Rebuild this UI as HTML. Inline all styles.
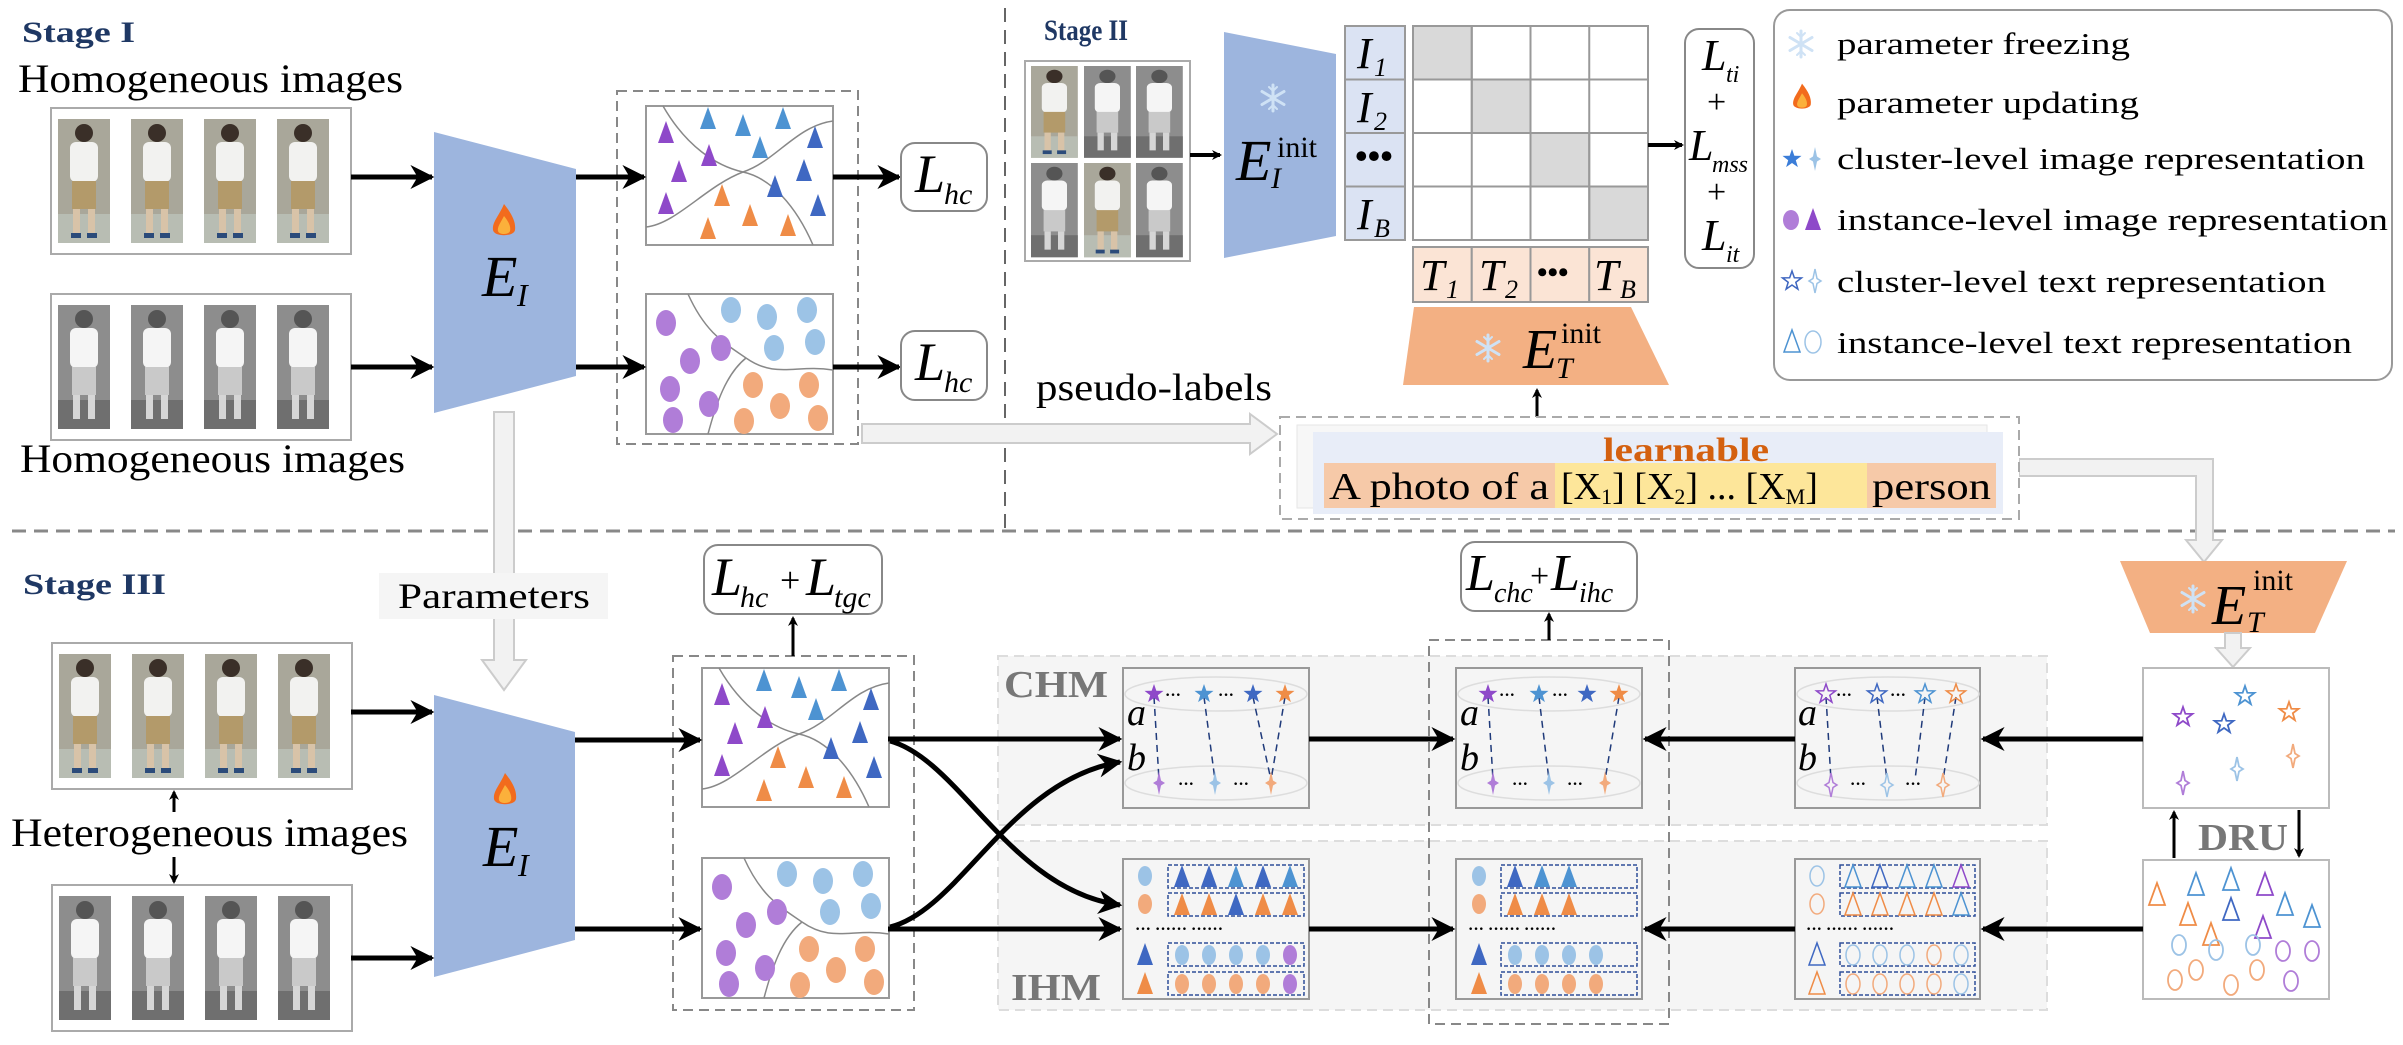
<!DOCTYPE html>
<html><head><meta charset="utf-8"><style>
html,body{margin:0;padding:0;background:#fff}
svg{display:block;font-family:"Liberation Serif","Times New Roman",serif}
svg text{font-family:"Liberation Serif","Times New Roman",serif}
</style></head><body>
<svg width="2403" height="1045" viewBox="0 0 2403 1045" xmlns="http://www.w3.org/2000/svg" font-family="Liberation Serif, Times New Roman, serif">
<defs>
<marker id="ah" markerWidth="10" markerHeight="10" refX="8" refY="5" orient="auto" markerUnits="userSpaceOnUse"><path d="M0,0 L10,5 L0,10 L3,5Z" fill="#000"/></marker>
<marker id="ahb" viewBox="0 0 10 10" markerWidth="24" markerHeight="24" refX="9" refY="5" orient="auto" markerUnits="userSpaceOnUse"><path d="M0,0 L10,5 L0,10 L3,5Z" fill="#000"/></marker>
<path id="tri" d="M0,-12 L8,10 L-8,10Z"/>
<path id="st5" d="M0,-10 2.35,-3.24 9.5,-3.1 3.8,1.24 5.9,8.1 0,4 -5.9,8.1 -3.8,1.24 -9.5,-3.1 -2.35,-3.24Z"/>
<path id="st4" d="M0,-12 2,-2.5 6,0 2,2.5 0,12 -2,2.5 -6,0 -2,-2.5Z"/>
<g id="flame"><path d="M0,-18 C8,-8 12,0 11,8 C10,15 -10,15 -11,8 C-12,0 -5,-6 0,-18Z" fill="#f26b1d"/><path d="M0,-6 C5,0 7,5 6,9 C5,13 -5,13 -6,9 C-7,5 -3,0 0,-6Z" fill="#fbb03b"/></g>
<g id="snow" stroke="#cfe2f5" stroke-width="3" stroke-linecap="round"><line x1="0" y1="-13" x2="0" y2="13"/><line x1="-11" y1="-6.5" x2="11" y2="6.5"/><line x1="-11" y1="6.5" x2="11" y2="-6.5"/><path d="M-4,-11 0,-7 4,-11 M-4,11 0,7 4,11" fill="none" stroke-width="2"/></g>
<g id="person"><rect x="0" y="0" width="52" height="124" fill="#a9a79a"/><rect x="0" y="95" width="52" height="29" fill="#b8bdb3"/><circle cx="26" cy="14" r="9" fill="#3a2f28"/><rect x="12" y="23" width="28" height="40" rx="6" fill="#f2f2f0"/><rect x="14" y="62" width="24" height="28" fill="#b39a6a"/><rect x="15" y="90" width="7" height="24" fill="#d8c3a8"/><rect x="30" y="90" width="7" height="24" fill="#d8c3a8"/><rect x="13" y="114" width="10" height="5" fill="#2b4b7a"/><rect x="29" y="114" width="10" height="5" fill="#2b4b7a"/></g>
<g id="personG"><rect x="0" y="0" width="52" height="124" fill="#8d8d8d"/><rect x="0" y="95" width="52" height="29" fill="#6f6f6f"/><circle cx="26" cy="14" r="9" fill="#555"/><rect x="12" y="23" width="28" height="40" rx="6" fill="#f5f5f5"/><rect x="14" y="62" width="24" height="28" fill="#c9c9c9"/><rect x="15" y="90" width="7" height="24" fill="#d6d6d6"/><rect x="30" y="90" width="7" height="24" fill="#d6d6d6"/></g>
<g id="strip"><rect x="0" y="0" width="300" height="146" fill="#fff" stroke="#aaa" stroke-width="2"/><g transform="translate(7,11)"><use href="#person"/></g><g transform="translate(80,11)"><use href="#person"/></g><g transform="translate(153,11)"><use href="#person"/></g><g transform="translate(226,11)"><use href="#person"/></g></g>
<g id="stripG"><rect x="0" y="0" width="300" height="146" fill="#fff" stroke="#aaa" stroke-width="2"/><g transform="translate(7,11)"><use href="#personG"/></g><g transform="translate(80,11)"><use href="#personG"/></g><g transform="translate(153,11)"><use href="#personG"/></g><g transform="translate(226,11)"><use href="#personG"/></g></g>
<g id="triBox">
<rect x="0" y="0" width="187" height="139" fill="#fff" stroke="#999" stroke-width="2"/>
<path d="M17,0 C40,40 70,60 97,66 C125,72 150,100 167,139" fill="none" stroke="#888" stroke-width="1.5"/>
<path d="M0,121 C30,118 60,80 97,66 C130,55 150,20 187,15" fill="none" stroke="#888" stroke-width="1.5"/>
<use href="#tri" x="62" y="13" fill="#4d93d2"/><use href="#tri" x="97" y="20" fill="#4d93d2"/><use href="#tri" x="137" y="13" fill="#4d93d2"/>
<use href="#tri" x="169" y="32" fill="#3f68c2"/><use href="#tri" x="158" y="65" fill="#3f68c2"/><use href="#tri" x="129" y="81" fill="#3f68c2"/><use href="#tri" x="172" y="100" fill="#3f68c2"/><use href="#tri" x="114" y="42" fill="#4d93d2"/>
<use href="#tri" x="20" y="27" fill="#8e49c9"/><use href="#tri" x="63" y="50" fill="#8e49c9"/><use href="#tri" x="33" y="66" fill="#8e49c9"/><use href="#tri" x="20" y="98" fill="#8e49c9"/>
<use href="#tri" x="76" y="90" fill="#ef8c47"/><use href="#tri" x="104" y="110" fill="#ef8c47"/><use href="#tri" x="62" y="123" fill="#ef8c47"/><use href="#tri" x="142" y="120" fill="#ef8c47"/>
</g>
<g id="cirBox">
<rect x="0" y="0" width="187" height="140" fill="#fff" stroke="#999" stroke-width="2"/>
<path d="M42,0 C60,40 80,50 100,64 C130,85 150,70 187,76" fill="none" stroke="#888" stroke-width="1.5"/>
<path d="M62,140 C70,110 80,80 100,64" fill="none" stroke="#888" stroke-width="1.5"/>
<g fill="#9cc3e6"><ellipse cx="85" cy="16" rx="10" ry="13"/><ellipse cx="121" cy="23" rx="10" ry="13"/><ellipse cx="161" cy="16" rx="10" ry="13"/><ellipse cx="128" cy="54" rx="10" ry="13"/><ellipse cx="169" cy="48" rx="10" ry="13"/></g>
<g fill="#b07dd8"><ellipse cx="20" cy="29" rx="10" ry="13"/><ellipse cx="75" cy="54" rx="10" ry="13"/><ellipse cx="44" cy="67" rx="10" ry="13"/><ellipse cx="24" cy="95" rx="10" ry="13"/><ellipse cx="63" cy="110" rx="10" ry="13"/><ellipse cx="27" cy="126" rx="10" ry="13"/></g>
<g fill="#f2aa7c"><ellipse cx="107" cy="91" rx="10" ry="13"/><ellipse cx="163" cy="91" rx="10" ry="13"/><ellipse cx="134" cy="112" rx="10" ry="13"/><ellipse cx="98" cy="127" rx="10" ry="13"/><ellipse cx="172" cy="124" rx="10" ry="13"/></g>
</g>
</defs>

<line x1="12" y1="531" x2="2395" y2="531" stroke="#888" stroke-width="3" stroke-dasharray="14,8"/>
<line x1="1005" y1="8" x2="1005" y2="531" stroke="#666" stroke-width="2" stroke-dasharray="14,8"/>

<text x="22" y="42" font-size="30" font-weight="bold" fill="#1f3864" textLength="113" lengthAdjust="spacingAndGlyphs">Stage I</text>
<text x="18" y="92" font-size="40" textLength="385" lengthAdjust="spacingAndGlyphs">Homogeneous images</text>
<use href="#strip" x="51" y="108"/>
<use href="#stripG" x="51" y="294"/>
<text x="20" y="472" font-size="40" textLength="385" lengthAdjust="spacingAndGlyphs">Homogeneous images</text>
<polygon points="434,132 576,169 576,376 434,413" fill="#9db5de"/>
<use href="#flame" x="504" y="222"/>
<text x="482" y="296" font-size="58" font-style="italic">E</text><text x="517" y="306" font-size="32" font-style="italic">I</text>
<line x1="351" y1="177" x2="432" y2="177" stroke="#000" stroke-width="5" marker-end="url(#ahb)"/>
<line x1="351" y1="367" x2="432" y2="367" stroke="#000" stroke-width="5" marker-end="url(#ahb)"/>
<rect x="617" y="91" width="241" height="353" fill="none" stroke="#888" stroke-width="2" stroke-dasharray="10,6"/>
<use href="#triBox" x="646" y="106"/>
<use href="#cirBox" x="646" y="294"/>
<line x1="576" y1="177" x2="644" y2="177" stroke="#000" stroke-width="5" marker-end="url(#ahb)"/>
<line x1="576" y1="367" x2="644" y2="367" stroke="#000" stroke-width="5" marker-end="url(#ahb)"/>
<line x1="833" y1="177" x2="899" y2="177" stroke="#000" stroke-width="5" marker-end="url(#ahb)"/>
<line x1="833" y1="367" x2="899" y2="367" stroke="#000" stroke-width="5" marker-end="url(#ahb)"/>
<rect x="901" y="143" width="86" height="68" rx="14" fill="#fff" stroke="#888" stroke-width="2"/>
<text x="915" y="192" font-size="54" font-style="italic">L</text><text x="944" y="204" font-size="30" font-style="italic">hc</text>
<rect x="901" y="331" width="86" height="69" rx="14" fill="#fff" stroke="#888" stroke-width="2"/>
<text x="915" y="380" font-size="54" font-style="italic">L</text><text x="944" y="392" font-size="30" font-style="italic">hc</text>

<polygon points="494,412 514,412 514,660 526,660 504,690 482,660 494,660" fill="#f2f2f2" stroke="#ccc" stroke-width="2"/>
<rect x="379" y="573" width="229" height="46" fill="#f5f5f5"/>
<text x="398" y="608" font-size="36" textLength="192" lengthAdjust="spacingAndGlyphs">Parameters</text>
<polygon points="862,424 1250,424 1250,414 1277,434 1250,454 1250,443 862,443" fill="#f2f2f2" stroke="#ccc" stroke-width="2"/>
<text x="1036" y="400" font-size="38" textLength="236" lengthAdjust="spacingAndGlyphs">pseudo-labels</text>
<polygon points="2019,459 2213,459 2213,540 2222,540 2204,562 2186,540 2196,540 2196,476 2019,476" fill="#f2f2f2" stroke="#ccc" stroke-width="2"/>

<text x="1044" y="40" font-size="30" font-weight="bold" fill="#1f3864" textLength="84" lengthAdjust="spacingAndGlyphs">Stage II</text>
<rect x="1025" y="61" width="165" height="200" fill="#fff" stroke="#aaa" stroke-width="2"/>
<g transform="translate(1031,66) scale(0.9,0.74)"><use href="#person"/></g>
<g transform="translate(1084,66) scale(0.9,0.74)"><use href="#personG"/></g>
<g transform="translate(1136,66) scale(0.9,0.74)"><use href="#personG"/></g>
<g transform="translate(1031,163) scale(0.9,0.76)"><use href="#personG"/></g>
<g transform="translate(1084,163) scale(0.9,0.76)"><use href="#person"/></g>
<g transform="translate(1136,163) scale(0.9,0.76)"><use href="#personG"/></g>
<polygon points="1224,32 1336,54 1336,236 1224,258" fill="#9db5de"/>
<use href="#snow" x="1273" y="98"/>
<text x="1236" y="180" font-size="58" font-style="italic">E</text><text x="1271" y="188" font-size="30" font-style="italic">I</text><text x="1277" y="157" font-size="30">init</text>
<line x1="1190" y1="155" x2="1220" y2="155" stroke="#000" stroke-width="4" marker-end="url(#ah)"/>
<g stroke="#999" stroke-width="2">
<rect x="1345" y="26" width="60" height="53.5" fill="#dbe3f3"/><rect x="1345" y="79.5" width="60" height="53.5" fill="#dbe3f3"/><rect x="1345" y="133" width="60" height="53.5" fill="#dbe3f3"/><rect x="1345" y="186.5" width="60" height="53.5" fill="#dbe3f3"/>
<rect x="1413" y="26" width="235" height="214" fill="#fff"/>
<rect x="1413" y="26" width="58.75" height="53.5" fill="#d9d9d9"/><rect x="1471.75" y="79.5" width="58.75" height="53.5" fill="#d9d9d9"/><rect x="1530.5" y="133" width="58.75" height="53.5" fill="#d9d9d9"/><rect x="1589.25" y="186.5" width="58.75" height="53.5" fill="#d9d9d9"/>
<line x1="1471.75" y1="26" x2="1471.75" y2="240"/><line x1="1530.5" y1="26" x2="1530.5" y2="240"/><line x1="1589.25" y1="26" x2="1589.25" y2="240"/>
<line x1="1413" y1="79.5" x2="1648" y2="79.5"/><line x1="1413" y1="133" x2="1648" y2="133"/><line x1="1413" y1="186.5" x2="1648" y2="186.5"/>
<rect x="1413" y="247" width="58.75" height="55" fill="#fbe4d5"/><rect x="1471.75" y="247" width="58.75" height="55" fill="#fbe4d5"/><rect x="1530.5" y="247" width="58.75" height="55" fill="#fbe4d5"/><rect x="1589.25" y="247" width="58.75" height="55" fill="#fbe4d5"/>
</g>
<g font-style="italic" font-size="44">
<text x="1357" y="68">I</text><text x="1374" y="76" font-size="26">1</text>
<text x="1357" y="122">I</text><text x="1374" y="130" font-size="26">2</text>
<text x="1357" y="229">I</text><text x="1374" y="237" font-size="26">B</text>
<text x="1420" y="290">T</text><text x="1446" y="298" font-size="26">1</text>
<text x="1479" y="290">T</text><text x="1505" y="298" font-size="26">2</text>
<text x="1594" y="290">T</text><text x="1620" y="298" font-size="26">B</text>
</g>
<text x="1355" y="168" font-size="36" font-weight="bold">•••</text>
<text x="1537" y="282" font-size="30" font-weight="bold">•••</text>
<line x1="1648" y1="145" x2="1682" y2="145" stroke="#000" stroke-width="4" marker-end="url(#ah)"/>
<rect x="1685" y="29" width="69" height="239" rx="14" fill="#fff" stroke="#888" stroke-width="2"/>
<g font-style="italic">
<text x="1702" y="70" font-size="44">L</text><text x="1726" y="82" font-size="24">ti</text>
<text x="1707" y="113" font-size="34" font-style="normal">+</text>
<text x="1689" y="160" font-size="44">L</text><text x="1712" y="172" font-size="24">mss</text>
<text x="1707" y="203" font-size="34" font-style="normal">+</text>
<text x="1702" y="250" font-size="44">L</text><text x="1726" y="262" font-size="24">it</text>
</g>
<polygon points="1414,307 1631,307 1669,385 1403,385" fill="#f3b083"/>
<use href="#snow" x="1488" y="348"/>
<text x="1523" y="368" font-size="56" font-style="italic">E</text><text x="1556" y="378" font-size="30" font-style="italic">T</text><text x="1561" y="343" font-size="30">init</text>
<line x1="1537" y1="417" x2="1537" y2="390" stroke="#000" stroke-width="3" marker-end="url(#ah)"/>
<rect x="1280" y="417" width="739" height="102" fill="#fff" stroke="#aaa" stroke-width="2" stroke-dasharray="10,6"/>
<rect x="1297" y="425" width="690" height="83" fill="#f7f7f7" stroke="#e6e6e6"/>
<rect x="1313" y="432" width="690" height="82" fill="#e8edf8"/>
<text x="1603" y="461" font-size="34" fill="#d4600f" font-weight="bold" textLength="166" lengthAdjust="spacingAndGlyphs">learnable</text>
<rect x="1324" y="463" width="231" height="45" fill="#f6c9a8"/>
<rect x="1555" y="463" width="312" height="45" fill="#fde69a"/>
<rect x="1867" y="463" width="129" height="45" fill="#f6c9a8"/>
<text x="1329" y="499" font-size="38" textLength="220" lengthAdjust="spacingAndGlyphs">A photo of a</text>
<text x="1561" y="499" font-size="38">[X<tspan font-size="22" dy="5">1</tspan><tspan dy="-5">] [X</tspan><tspan font-size="22" dy="5">2</tspan><tspan dy="-5">] ... [X</tspan><tspan font-size="22" dy="5">M</tspan><tspan dy="-5">]</tspan></text>
<text x="1872" y="499" font-size="38" textLength="119" lengthAdjust="spacingAndGlyphs">person</text>

<rect x="1774" y="10" width="618" height="370" rx="16" fill="#fff" stroke="#999" stroke-width="2"/>
<use href="#snow" x="1801" y="44"/>
<g transform="translate(1802,98) scale(0.8)"><use href="#flame"/></g>
<use href="#st5" x="1792" y="159" fill="#3b7dd8"/><use href="#st4" x="1815" y="159" fill="#9cc3e6"/>
<ellipse cx="1791" cy="220" rx="8" ry="10" fill="#b07dd8"/><use href="#tri" x="1813" y="220" fill="#8e49c9"/>
<use href="#st5" x="1792" y="281" fill="none" stroke="#3e66c0" stroke-width="1.5"/><use href="#st4" x="1815" y="281" fill="none" stroke="#9cc3e6" stroke-width="1.5"/>
<use href="#tri" x="1792" y="342" fill="none" stroke="#4d93d2" stroke-width="1.5"/><ellipse cx="1813" cy="342" rx="8" ry="11" fill="none" stroke="#9cc3e6" stroke-width="1.5"/>
<g font-size="31">
<text x="1837" y="54" textLength="293" lengthAdjust="spacingAndGlyphs">parameter freezing</text>
<text x="1837" y="113" textLength="302" lengthAdjust="spacingAndGlyphs">parameter updating</text>
<text x="1837" y="169" textLength="528" lengthAdjust="spacingAndGlyphs">cluster-level image representation</text>
<text x="1837" y="230" textLength="551" lengthAdjust="spacingAndGlyphs">instance-level image representation</text>
<text x="1837" y="292" textLength="489" lengthAdjust="spacingAndGlyphs">cluster-level text representation</text>
<text x="1837" y="353" textLength="515" lengthAdjust="spacingAndGlyphs">instance-level text representation</text>
</g>

<text x="23" y="594" font-size="30" font-weight="bold" fill="#1f3864" textLength="143" lengthAdjust="spacingAndGlyphs">Stage III</text>
<use href="#strip" x="52" y="643"/>
<use href="#stripG" x="52" y="885"/>
<text x="11" y="846" font-size="40" textLength="397" lengthAdjust="spacingAndGlyphs">Heterogeneous images</text>
<line x1="174" y1="812" x2="174" y2="792" stroke="#000" stroke-width="3" marker-end="url(#ah)"/>
<line x1="174" y1="857" x2="174" y2="882" stroke="#000" stroke-width="3" marker-end="url(#ah)"/>
<polygon points="434,695 575,732 575,940 434,977" fill="#9db5de"/>
<use href="#flame" x="505" y="791"/>
<text x="483" y="866" font-size="58" font-style="italic">E</text><text x="518" y="876" font-size="32" font-style="italic">I</text>
<line x1="351" y1="712" x2="432" y2="712" stroke="#000" stroke-width="5" marker-end="url(#ahb)"/>
<line x1="351" y1="958" x2="432" y2="958" stroke="#000" stroke-width="5" marker-end="url(#ahb)"/>
<rect x="673" y="656" width="241" height="354" fill="none" stroke="#888" stroke-width="2" stroke-dasharray="10,6"/>
<use href="#triBox" x="702" y="668"/>
<use href="#cirBox" x="702" y="858"/>
<line x1="575" y1="740" x2="700" y2="740" stroke="#000" stroke-width="5" marker-end="url(#ahb)"/>
<line x1="575" y1="929" x2="700" y2="929" stroke="#000" stroke-width="5" marker-end="url(#ahb)"/>
<line x1="793" y1="656" x2="793" y2="618" stroke="#000" stroke-width="3" marker-end="url(#ah)"/>
<rect x="704" y="545" width="178" height="69" rx="14" fill="#fff" stroke="#888" stroke-width="2"/>
<text x="712" y="595" font-size="54" font-style="italic">L</text><text x="740" y="607" font-size="30" font-style="italic">hc</text>
<text x="780" y="592" font-size="36">+</text>
<text x="806" y="595" font-size="54" font-style="italic">L</text><text x="834" y="607" font-size="30" font-style="italic">tgc</text>

<rect x="998" y="656" width="1049" height="169" fill="#f5f5f5" stroke="#ddd" stroke-width="2" stroke-dasharray="10,6"/>
<rect x="998" y="841" width="1049" height="169" fill="#f5f5f5" stroke="#ddd" stroke-width="2" stroke-dasharray="10,6"/>
<text x="1004" y="697" font-size="38" font-weight="bold" fill="#777" textLength="104" lengthAdjust="spacingAndGlyphs">CHM</text>
<text x="1011" y="1000" font-size="38" font-weight="bold" fill="#777" textLength="90" lengthAdjust="spacingAndGlyphs">IHM</text>
<rect x="1429" y="640" width="240" height="384" fill="none" stroke="#888" stroke-width="2" stroke-dasharray="10,6"/>
<line x1="1549" y1="640" x2="1549" y2="614" stroke="#000" stroke-width="3" marker-end="url(#ah)"/>
<rect x="1461" y="542" width="176" height="69" rx="14" fill="#fff" stroke="#888" stroke-width="2"/>
<text x="1466" y="590" font-size="52" font-style="italic">L</text><text x="1494" y="602" font-size="28" font-style="italic">chc</text>
<text x="1530" y="587" font-size="34">+</text>
<text x="1551" y="590" font-size="52" font-style="italic">L</text><text x="1579" y="602" font-size="28" font-style="italic">ihc</text>

<g>
<rect x="1123" y="668" width="186" height="140" fill="#f5f5f5" stroke="#999" stroke-width="2"/>
<ellipse cx="1216" cy="694" rx="91" ry="17" fill="none" stroke="#ddd" stroke-width="1.5"/>
<ellipse cx="1216" cy="783" rx="91" ry="17" fill="none" stroke="#ddd" stroke-width="1.5"/>
<g stroke="#1f3a7a" stroke-width="1.5" stroke-dasharray="7,5"><line x1="1154" y1="697" x2="1159" y2="780"/><line x1="1204" y1="697" x2="1215" y2="780"/><line x1="1253" y1="697" x2="1271" y2="780"/><line x1="1285" y1="697" x2="1271" y2="780"/></g>
<use href="#st5" x="1154" y="694" fill="#8e49c9"/><use href="#st5" x="1204" y="694" fill="#4d93d2"/><use href="#st5" x="1253" y="694" fill="#3f68c2"/><use href="#st5" x="1285" y="694" fill="#ef8c47"/>
<use href="#st4" x="1159" y="783" fill="#b07dd8"/><use href="#st4" x="1215" y="783" fill="#9cc3e6"/><use href="#st4" x="1271" y="783" fill="#f2aa7c"/>
<text x="1165" y="700" font-size="16" font-weight="bold">···</text><text x="1218" y="700" font-size="16" font-weight="bold">···</text>
<text x="1178" y="789" font-size="16" font-weight="bold">···</text><text x="1233" y="789" font-size="16" font-weight="bold">···</text>
<text x="1127" y="725" font-size="38" font-style="italic">a</text><text x="1127" y="770" font-size="38" font-style="italic">b</text>
</g>
<g>
<rect x="1456" y="668" width="186" height="140" fill="#f5f5f5" stroke="#999" stroke-width="2"/>
<ellipse cx="1549" cy="694" rx="91" ry="17" fill="none" stroke="#ddd" stroke-width="1.5"/>
<ellipse cx="1549" cy="783" rx="91" ry="17" fill="none" stroke="#ddd" stroke-width="1.5"/>
<g stroke="#1f3a7a" stroke-width="1.5" stroke-dasharray="7,5"><line x1="1488" y1="697" x2="1493" y2="780"/><line x1="1539" y1="697" x2="1549" y2="780"/><line x1="1619" y1="697" x2="1605" y2="780"/></g>
<use href="#st5" x="1488" y="694" fill="#8e49c9"/><use href="#st5" x="1539" y="694" fill="#4d93d2"/><use href="#st5" x="1587" y="694" fill="#3f68c2"/><use href="#st5" x="1619" y="694" fill="#ef8c47"/>
<use href="#st4" x="1493" y="783" fill="#b07dd8"/><use href="#st4" x="1549" y="783" fill="#9cc3e6"/><use href="#st4" x="1605" y="783" fill="#f2aa7c"/>
<text x="1499" y="700" font-size="16" font-weight="bold">···</text><text x="1552" y="700" font-size="16" font-weight="bold">···</text>
<text x="1512" y="789" font-size="16" font-weight="bold">···</text><text x="1567" y="789" font-size="16" font-weight="bold">···</text>
<text x="1460" y="725" font-size="38" font-style="italic">a</text><text x="1460" y="770" font-size="38" font-style="italic">b</text>
</g>
<g>
<rect x="1795" y="668" width="185" height="140" fill="#f5f5f5" stroke="#999" stroke-width="2"/>
<ellipse cx="1888" cy="694" rx="91" ry="17" fill="none" stroke="#ddd" stroke-width="1.5"/>
<ellipse cx="1888" cy="783" rx="91" ry="17" fill="none" stroke="#ddd" stroke-width="1.5"/>
<g stroke="#1f3a7a" stroke-width="1.5" stroke-dasharray="7,5"><line x1="1826" y1="697" x2="1831" y2="780"/><line x1="1877" y1="697" x2="1887" y2="780"/><line x1="1925" y1="697" x2="1915" y2="780"/><line x1="1956" y1="697" x2="1943" y2="780"/></g>
<g fill="none" stroke-width="1.5"><use href="#st5" x="1826" y="694" stroke="#8e49c9"/><use href="#st5" x="1877" y="694" stroke="#3f68c2"/><use href="#st5" x="1925" y="694" stroke="#4d93d2"/><use href="#st5" x="1956" y="694" stroke="#ef8c47"/>
<use href="#st4" x="1831" y="785" stroke="#b07dd8"/><use href="#st4" x="1887" y="785" stroke="#9cc3e6"/><use href="#st4" x="1943" y="785" stroke="#f2aa7c"/></g>
<text x="1836" y="700" font-size="16" font-weight="bold">···</text><text x="1890" y="700" font-size="16" font-weight="bold">···</text>
<text x="1850" y="789" font-size="16" font-weight="bold">···</text><text x="1905" y="789" font-size="16" font-weight="bold">···</text>
<text x="1798" y="725" font-size="38" font-style="italic">a</text><text x="1798" y="770" font-size="38" font-style="italic">b</text>
</g>

<g>
<rect x="1123" y="859" width="186" height="140" fill="#f5f5f5" stroke="#999" stroke-width="2"/>
<g fill="none" stroke="#2f4f9a" stroke-width="1.5" stroke-dasharray="4,2"><rect x="1168" y="865" width="136" height="23"/><rect x="1168" y="893" width="136" height="23"/><rect x="1168" y="943" width="136" height="23"/><rect x="1168" y="972" width="136" height="23"/></g>
<ellipse cx="1145" cy="876" rx="7" ry="10" fill="#9cc3e6"/><ellipse cx="1145" cy="904" rx="7" ry="10" fill="#f2aa7c"/>
<use href="#tri" x="1145" y="955" fill="#3f68c2"/><use href="#tri" x="1145" y="984" fill="#ef8c47"/>
<use href="#tri" x="1182" y="877" fill="#3f68c2"/><use href="#tri" x="1209" y="877" fill="#3f68c2"/><use href="#tri" x="1236" y="877" fill="#4d93d2"/><use href="#tri" x="1263" y="877" fill="#3f68c2"/><use href="#tri" x="1290" y="877" fill="#4d93d2"/>
<use href="#tri" x="1182" y="905" fill="#ef8c47"/><use href="#tri" x="1209" y="905" fill="#ef8c47"/><use href="#tri" x="1236" y="905" fill="#3f68c2"/><use href="#tri" x="1263" y="905" fill="#ef8c47"/><use href="#tri" x="1290" y="905" fill="#ef8c47"/>
<g fill="#9cc3e6"><ellipse cx="1182" cy="955" rx="7" ry="10"/><ellipse cx="1209" cy="955" rx="7" ry="10"/><ellipse cx="1236" cy="955" rx="7" ry="10"/><ellipse cx="1263" cy="955" rx="7" ry="10"/></g><ellipse cx="1290" cy="955" rx="7" ry="10" fill="#b07dd8"/>
<g fill="#f2aa7c"><ellipse cx="1182" cy="984" rx="7" ry="10"/><ellipse cx="1209" cy="984" rx="7" ry="10"/><ellipse cx="1236" cy="984" rx="7" ry="10"/><ellipse cx="1263" cy="984" rx="7" ry="10"/></g><ellipse cx="1290" cy="984" rx="7" ry="10" fill="#b07dd8"/>
<text x="1135" y="934" font-size="16" font-weight="bold">···   ······  ······</text>
</g>
<g>
<rect x="1456" y="859" width="186" height="140" fill="#f5f5f5" stroke="#999" stroke-width="2"/>
<g fill="none" stroke="#2f4f9a" stroke-width="1.5" stroke-dasharray="4,2"><rect x="1501" y="865" width="136" height="23"/><rect x="1501" y="893" width="136" height="23"/><rect x="1501" y="943" width="136" height="23"/><rect x="1501" y="972" width="136" height="23"/></g>
<ellipse cx="1479" cy="876" rx="7" ry="10" fill="#9cc3e6"/><ellipse cx="1479" cy="904" rx="7" ry="10" fill="#f2aa7c"/>
<use href="#tri" x="1479" y="955" fill="#3f68c2"/><use href="#tri" x="1479" y="984" fill="#ef8c47"/>
<use href="#tri" x="1515" y="877" fill="#3f68c2"/><use href="#tri" x="1542" y="877" fill="#4d93d2"/><use href="#tri" x="1569" y="877" fill="#4d93d2"/>
<use href="#tri" x="1515" y="905" fill="#ef8c47"/><use href="#tri" x="1542" y="905" fill="#ef8c47"/><use href="#tri" x="1569" y="905" fill="#ef8c47"/>
<g fill="#9cc3e6"><ellipse cx="1515" cy="955" rx="7" ry="10"/><ellipse cx="1542" cy="955" rx="7" ry="10"/><ellipse cx="1569" cy="955" rx="7" ry="10"/><ellipse cx="1596" cy="955" rx="7" ry="10"/></g>
<g fill="#f2aa7c"><ellipse cx="1515" cy="984" rx="7" ry="10"/><ellipse cx="1542" cy="984" rx="7" ry="10"/><ellipse cx="1569" cy="984" rx="7" ry="10"/><ellipse cx="1596" cy="984" rx="7" ry="10"/></g>
<text x="1468" y="934" font-size="16" font-weight="bold">···   ······  ······</text>
</g>
<g>
<rect x="1795" y="859" width="185" height="140" fill="#f5f5f5" stroke="#999" stroke-width="2"/>
<g fill="none" stroke="#2f4f9a" stroke-width="1.5" stroke-dasharray="4,2"><rect x="1840" y="865" width="135" height="23"/><rect x="1840" y="893" width="135" height="23"/><rect x="1840" y="943" width="135" height="23"/><rect x="1840" y="972" width="135" height="23"/></g>
<g fill="none" stroke-width="1.5">
<ellipse cx="1817" cy="876" rx="7" ry="10" stroke="#9cc3e6"/><ellipse cx="1817" cy="904" rx="7" ry="10" stroke="#f2aa7c"/>
<use href="#tri" x="1817" y="955" stroke="#3f68c2"/><use href="#tri" x="1817" y="984" stroke="#ef8c47"/>
<use href="#tri" x="1853" y="877" stroke="#4d93d2"/><use href="#tri" x="1880" y="877" stroke="#3f68c2"/><use href="#tri" x="1907" y="877" stroke="#4d93d2"/><use href="#tri" x="1934" y="877" stroke="#4d93d2"/><use href="#tri" x="1961" y="877" stroke="#8e49c9"/>
<use href="#tri" x="1853" y="905" stroke="#ef8c47"/><use href="#tri" x="1880" y="905" stroke="#ef8c47"/><use href="#tri" x="1907" y="905" stroke="#ef8c47"/><use href="#tri" x="1934" y="905" stroke="#ef8c47"/><use href="#tri" x="1961" y="905" stroke="#4d93d2"/>
<ellipse cx="1853" cy="955" rx="7" ry="10" stroke="#9cc3e6"/><ellipse cx="1880" cy="955" rx="7" ry="10" stroke="#9cc3e6"/><ellipse cx="1907" cy="955" rx="7" ry="10" stroke="#9cc3e6"/><ellipse cx="1934" cy="955" rx="7" ry="10" stroke="#f2aa7c"/><ellipse cx="1961" cy="955" rx="7" ry="10" stroke="#9cc3e6"/>
<ellipse cx="1853" cy="984" rx="7" ry="10" stroke="#f2aa7c"/><ellipse cx="1880" cy="984" rx="7" ry="10" stroke="#f2aa7c"/><ellipse cx="1907" cy="984" rx="7" ry="10" stroke="#f2aa7c"/><ellipse cx="1934" cy="984" rx="7" ry="10" stroke="#f2aa7c"/><ellipse cx="1961" cy="984" rx="7" ry="10" stroke="#9cc3e6"/>
</g>
<text x="1806" y="934" font-size="16" font-weight="bold">···   ······  ······</text>
</g>

<polygon points="2120,561 2347,561 2315,633 2150,633" fill="#f3b083"/>
<use href="#snow" x="2193" y="599"/>
<text x="2212" y="624" font-size="56" font-style="italic">E</text><text x="2247" y="632" font-size="30" font-style="italic">T</text><text x="2253" y="590" font-size="30">init</text>
<polygon points="2225,633 2241,633 2241,648 2250,648 2233,667 2216,648 2225,648" fill="#f2f2f2" stroke="#ccc" stroke-width="2"/>
<rect x="2143" y="668" width="186" height="140" fill="#fff" stroke="#bbb" stroke-width="2"/>
<g fill="none" stroke-width="1.8">
<use href="#st5" x="2245" y="696" stroke="#4d93d2"/><use href="#st5" x="2183" y="717" stroke="#8e49c9"/><use href="#st5" x="2224" y="724" stroke="#3f68c2"/><use href="#st5" x="2289" y="712" stroke="#ef8c47"/>
<use href="#st4" x="2293" y="756" stroke="#f2aa7c"/><use href="#st4" x="2237" y="769" stroke="#9cc3e6"/><use href="#st4" x="2183" y="783" stroke="#b07dd8"/>
</g>
<rect x="2143" y="860" width="186" height="139" fill="#fff" stroke="#bbb" stroke-width="2"/>
<g fill="none" stroke-width="1.8">
<use href="#tri" x="2196" y="885" stroke="#4d93d2"/><use href="#tri" x="2231" y="880" stroke="#4d93d2"/><use href="#tri" x="2265" y="885" stroke="#8e49c9"/><use href="#tri" x="2157" y="895" stroke="#ef8c47"/>
<use href="#tri" x="2188" y="915" stroke="#ef8c47"/><use href="#tri" x="2231" y="910" stroke="#3f68c2"/><use href="#tri" x="2285" y="905" stroke="#4d93d2"/><use href="#tri" x="2312" y="917" stroke="#4d93d2"/>
<use href="#tri" x="2211" y="935" stroke="#ef8c47"/><use href="#tri" x="2263" y="928" stroke="#8e49c9"/>
<ellipse cx="2179" cy="945" rx="7" ry="10" stroke="#9cc3e6"/><ellipse cx="2216" cy="950" rx="7" ry="10" stroke="#9cc3e6"/><ellipse cx="2253" cy="945" rx="7" ry="10" stroke="#9cc3e6"/><ellipse cx="2283" cy="951" rx="7" ry="10" stroke="#b07dd8"/><ellipse cx="2312" cy="951" rx="7" ry="10" stroke="#b07dd8"/>
<ellipse cx="2175" cy="980" rx="7" ry="10" stroke="#f2aa7c"/><ellipse cx="2196" cy="970" rx="7" ry="10" stroke="#f2aa7c"/><ellipse cx="2231" cy="985" rx="7" ry="10" stroke="#f2aa7c"/><ellipse cx="2257" cy="970" rx="7" ry="10" stroke="#f2aa7c"/><ellipse cx="2291" cy="981" rx="7" ry="10" stroke="#b07dd8"/>
</g>
<line x1="2174" y1="858" x2="2174" y2="812" stroke="#000" stroke-width="3" marker-end="url(#ah)"/>
<line x1="2299" y1="810" x2="2299" y2="856" stroke="#000" stroke-width="3" marker-end="url(#ah)"/>
<text x="2198" y="850" font-size="38" font-weight="bold" fill="#777" textLength="90" lengthAdjust="spacingAndGlyphs">DRU</text>

<g stroke="#000" stroke-width="5" fill="none">
<line x1="888" y1="739" x2="1120" y2="739" marker-end="url(#ahb)"/>
<line x1="888" y1="929" x2="1120" y2="929" marker-end="url(#ahb)"/>
<path d="M890,741 C960,760 1010,890 1120,905" marker-end="url(#ahb)"/>
<path d="M890,927 C960,910 1010,780 1120,762" marker-end="url(#ahb)"/>
<line x1="1309" y1="739" x2="1453" y2="739" marker-end="url(#ahb)"/>
<line x1="1309" y1="929" x2="1453" y2="929" marker-end="url(#ahb)"/>
<line x1="1795" y1="739" x2="1645" y2="739" marker-end="url(#ahb)"/>
<line x1="1795" y1="929" x2="1645" y2="929" marker-end="url(#ahb)"/>
<line x1="2143" y1="739" x2="1983" y2="739" marker-end="url(#ahb)"/>
<line x1="2143" y1="929" x2="1983" y2="929" marker-end="url(#ahb)"/>
</g>
</svg>
</body></html>
